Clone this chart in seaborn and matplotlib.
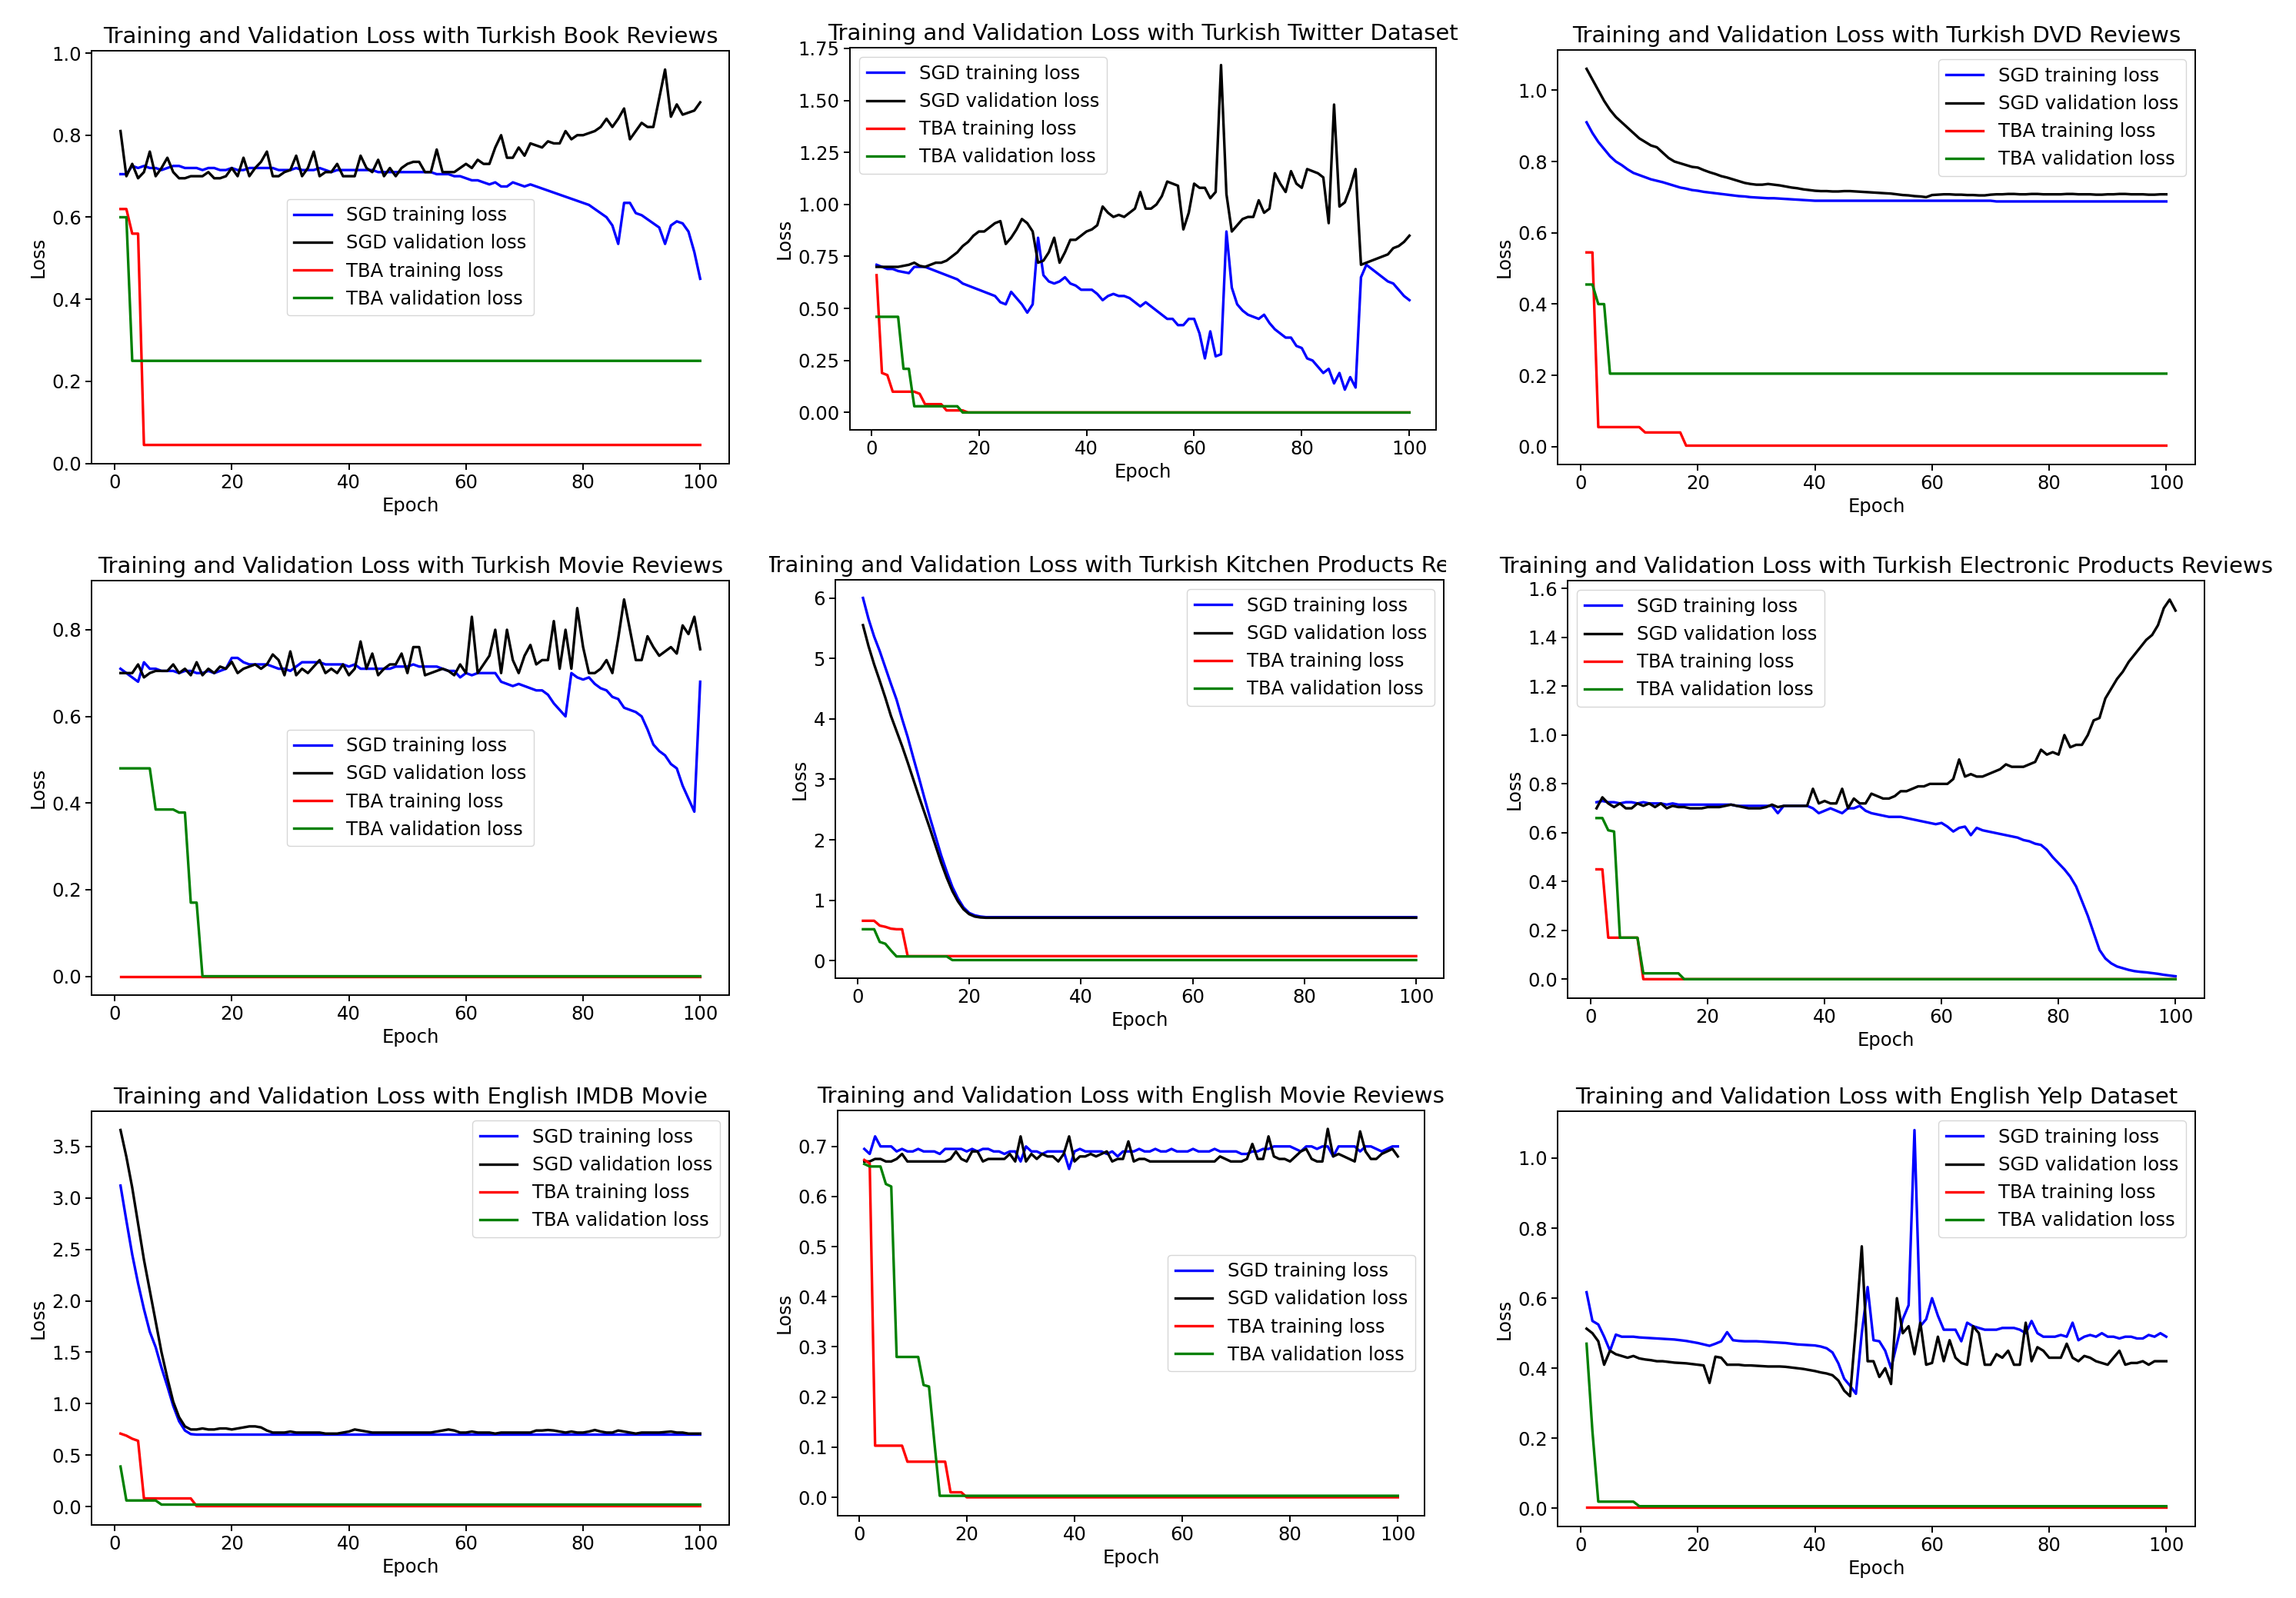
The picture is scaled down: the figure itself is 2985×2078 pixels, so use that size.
import matplotlib
matplotlib.use('Agg')
import matplotlib.pyplot as plt
from matplotlib.transforms import Bbox, TransformedBbox
import seaborn as sns

epochs = list(range(1, 101))
labels = ["SGD training loss", "SGD validation loss", "TBA training loss", "TBA validation loss"]
colors = ["blue", "black", "red", "green"]

# ---- Turkish Book Reviews ----
book_sgd_train = [0.705, 0.705, 0.725, 0.72, 0.725, 0.72, 0.72, 0.715, 0.72, 0.725,
                  0.725, 0.72, 0.72, 0.72, 0.715, 0.72, 0.72, 0.715, 0.715, 0.72,
                  0.715, 0.715, 0.72, 0.72, 0.72, 0.72, 0.72, 0.715, 0.715, 0.715,
                  0.72, 0.715, 0.715, 0.715, 0.72, 0.715, 0.71, 0.715, 0.715, 0.715,
                  0.715, 0.715, 0.715, 0.715, 0.71, 0.71, 0.71, 0.71, 0.71, 0.71,
                  0.71, 0.71, 0.71, 0.71, 0.705, 0.705, 0.705, 0.70, 0.70, 0.695,
                  0.69, 0.69, 0.685, 0.68, 0.685, 0.675, 0.675, 0.685, 0.68, 0.675,
                  0.68, 0.675, 0.67, 0.665, 0.66, 0.655, 0.65, 0.645, 0.64, 0.635,
                  0.63, 0.62, 0.61, 0.60, 0.58, 0.535, 0.635, 0.635, 0.61, 0.605,
                  0.595, 0.585, 0.575, 0.535, 0.58, 0.59, 0.585, 0.565, 0.515, 0.45]
book_sgd_val = [0.81, 0.70, 0.73, 0.695, 0.71, 0.76, 0.70, 0.72, 0.745, 0.71,
                0.695, 0.695, 0.70, 0.70, 0.70, 0.71, 0.695, 0.695, 0.70, 0.72,
                0.70, 0.745, 0.70, 0.72, 0.735, 0.76, 0.70, 0.70, 0.71, 0.715,
                0.75, 0.70, 0.72, 0.76, 0.70, 0.71, 0.71, 0.73, 0.70, 0.70,
                0.70, 0.75, 0.72, 0.71, 0.74, 0.70, 0.72, 0.70, 0.72, 0.73,
                0.735, 0.735, 0.71, 0.71, 0.765, 0.71, 0.71, 0.71, 0.72, 0.73,
                0.72, 0.74, 0.73, 0.73, 0.77, 0.80, 0.745, 0.745, 0.77, 0.75,
                0.78, 0.775, 0.77, 0.785, 0.78, 0.78, 0.81, 0.79, 0.80, 0.80,
                0.805, 0.81, 0.82, 0.84, 0.82, 0.84, 0.865, 0.79, 0.81, 0.83,
                0.82, 0.82, 0.89, 0.96, 0.845, 0.875, 0.85, 0.855, 0.86, 0.88]
book_tba_train = [0.62, 0.62, 0.56, 0.56] + [0.045] * 96
book_tba_val = [0.60, 0.60] + [0.25] * 98

# ---- Turkish Twitter Dataset ----
twitter_sgd_train = [0.71, 0.70, 0.69, 0.69, 0.68, 0.675, 0.67, 0.70, 0.70, 0.70,
                     0.69, 0.68, 0.67, 0.66, 0.65, 0.64, 0.62, 0.61, 0.60, 0.59,
                     0.58, 0.57, 0.56, 0.53, 0.52, 0.58, 0.55, 0.52, 0.48, 0.52,
                     0.84, 0.66, 0.63, 0.62, 0.63, 0.65, 0.62, 0.61, 0.59, 0.59,
                     0.59, 0.57, 0.54, 0.56, 0.57, 0.56, 0.56, 0.55, 0.53, 0.51,
                     0.53, 0.51, 0.49, 0.47, 0.45, 0.45, 0.42, 0.42, 0.45, 0.45,
                     0.38, 0.26, 0.39, 0.27, 0.28, 0.87, 0.60, 0.52, 0.49, 0.47,
                     0.46, 0.45, 0.47, 0.43, 0.40, 0.38, 0.36, 0.36, 0.32, 0.31,
                     0.26, 0.25, 0.22, 0.19, 0.21, 0.14, 0.19, 0.11, 0.17, 0.12,
                     0.65, 0.71, 0.69, 0.67, 0.65, 0.63, 0.62, 0.59, 0.56, 0.54]
twitter_sgd_val = [0.70, 0.70, 0.70, 0.70, 0.70, 0.705, 0.71, 0.72, 0.705, 0.70,
                   0.71, 0.72, 0.72, 0.73, 0.75, 0.77, 0.80, 0.82, 0.85, 0.87,
                   0.87, 0.89, 0.91, 0.92, 0.81, 0.84, 0.88, 0.93, 0.91, 0.87,
                   0.72, 0.73, 0.77, 0.84, 0.72, 0.77, 0.83, 0.83, 0.85, 0.87,
                   0.88, 0.90, 0.99, 0.96, 0.94, 0.95, 0.94, 0.96, 0.98, 1.06,
                   0.98, 0.98, 1.00, 1.04, 1.11, 1.10, 1.09, 0.88, 0.96, 1.10,
                   1.08, 1.08, 1.03, 1.06, 1.67, 1.05, 0.87, 0.90, 0.93, 0.94,
                   0.94, 1.02, 0.96, 0.98, 1.15, 1.10, 1.06, 1.16, 1.10, 1.08,
                   1.17, 1.16, 1.15, 1.13, 0.91, 1.48, 0.99, 1.01, 1.08, 1.17,
                   0.71, 0.72, 0.73, 0.74, 0.75, 0.76, 0.79, 0.80, 0.82, 0.85]
twitter_tba_train = [0.66, 0.19, 0.18, 0.10, 0.10, 0.10, 0.10, 0.10, 0.09, 0.04,
                     0.04, 0.04, 0.04, 0.01, 0.01, 0.01, 0.01] + [0.0] * 83
twitter_tba_val = [0.46] * 5 + [0.21, 0.21] + [0.03] * 9 + [0.0] * 84

# ---- Turkish DVD Reviews ----
dvd_sgd_train = [0.91, 0.88, 0.855, 0.835, 0.815, 0.80, 0.79, 0.778, 0.768, 0.762,
                 0.756, 0.75, 0.746, 0.742, 0.737, 0.732, 0.727, 0.724, 0.72, 0.718,
                 0.715, 0.713, 0.711, 0.709, 0.707, 0.705, 0.703, 0.702, 0.70, 0.699,
                 0.698, 0.697, 0.697, 0.696, 0.695, 0.694, 0.693, 0.692, 0.691, 0.69] + [0.69] * 30 + [0.688] * 30
dvd_sgd_val = [1.06, 1.03, 1.00, 0.97, 0.945, 0.925, 0.91, 0.895, 0.88, 0.865,
               0.855, 0.845, 0.84, 0.825, 0.81, 0.80, 0.795, 0.79, 0.785, 0.783,
               0.776, 0.77, 0.765, 0.759, 0.755, 0.75, 0.745, 0.74, 0.737, 0.735,
               0.735, 0.737, 0.735, 0.733, 0.73, 0.727, 0.725, 0.722, 0.72, 0.718,
               0.717, 0.717, 0.716, 0.716, 0.717, 0.717, 0.716, 0.715, 0.714, 0.713,
               0.712, 0.711, 0.71, 0.708, 0.706, 0.705, 0.703, 0.702, 0.70, 0.706,
               0.707, 0.708, 0.708, 0.707, 0.707, 0.706, 0.706, 0.705, 0.705, 0.707,
               0.708, 0.708, 0.709, 0.709, 0.708, 0.708, 0.709, 0.709, 0.708, 0.708,
               0.708, 0.708, 0.709, 0.709, 0.708, 0.708, 0.708, 0.707, 0.707, 0.708,
               0.708, 0.709, 0.709, 0.708, 0.708, 0.708, 0.707, 0.707, 0.708, 0.708]
dvd_tba_train = [0.545, 0.545] + [0.055] * 8 + [0.04] * 7 + [0.003] * 83
dvd_tba_val = [0.455, 0.455, 0.40, 0.40] + [0.205] * 96

# ---- Turkish Movie Reviews ----
trmovie_sgd_train = [0.71, 0.70, 0.69, 0.68, 0.725, 0.71, 0.71, 0.705, 0.705, 0.705,
                     0.70, 0.705, 0.705, 0.70, 0.70, 0.705, 0.70, 0.705, 0.71, 0.735,
                     0.735, 0.725, 0.72, 0.72, 0.72, 0.72, 0.715, 0.71, 0.71, 0.705,
                     0.715, 0.725, 0.725, 0.725, 0.725, 0.72, 0.72, 0.72, 0.72, 0.715,
                     0.72, 0.71, 0.71, 0.71, 0.71, 0.71, 0.71, 0.715, 0.715, 0.715,
                     0.72, 0.715, 0.715, 0.715, 0.715, 0.71, 0.705, 0.705, 0.69, 0.70,
                     0.695, 0.70, 0.70, 0.70, 0.70, 0.68, 0.675, 0.67, 0.675, 0.67,
                     0.665, 0.66, 0.66, 0.65, 0.63, 0.615, 0.60, 0.70, 0.69, 0.685,
                     0.69, 0.675, 0.665, 0.66, 0.645, 0.64, 0.62, 0.615, 0.61, 0.60,
                     0.57, 0.535, 0.52, 0.51, 0.49, 0.48, 0.44, 0.41, 0.38, 0.68]
trmovie_sgd_val = [0.70, 0.70, 0.70, 0.72, 0.69, 0.70, 0.705, 0.705, 0.705, 0.72,
                   0.70, 0.71, 0.695, 0.725, 0.695, 0.71, 0.70, 0.715, 0.71, 0.726,
                   0.70, 0.71, 0.715, 0.72, 0.71, 0.72, 0.743, 0.73, 0.695, 0.75,
                   0.695, 0.71, 0.70, 0.715, 0.73, 0.70, 0.71, 0.70, 0.72, 0.695,
                   0.71, 0.773, 0.71, 0.745, 0.695, 0.71, 0.72, 0.72, 0.745, 0.70,
                   0.76, 0.76, 0.695, 0.70, 0.705, 0.71, 0.705, 0.695, 0.72, 0.70,
                   0.83, 0.70, 0.72, 0.74, 0.80, 0.70, 0.80, 0.73, 0.70, 0.74,
                   0.765, 0.72, 0.73, 0.73, 0.82, 0.71, 0.80, 0.71, 0.85, 0.76,
                   0.70, 0.70, 0.71, 0.73, 0.70, 0.78, 0.87, 0.80, 0.73, 0.73,
                   0.785, 0.76, 0.74, 0.75, 0.76, 0.745, 0.81, 0.79, 0.83, 0.755]
trmovie_tba_train = [0.0] * 100
trmovie_tba_val = [0.48] * 6 + [0.385] * 4 + [0.378] * 2 + [0.17] * 2 + [0.0] * 86

# ---- Turkish Kitchen Products Reviews ----
kitchen_sgd_train = [6.00, 5.65, 5.36, 5.12, 4.85, 4.58, 4.32, 4.00, 3.70, 3.36,
                     3.03, 2.69, 2.36, 2.05, 1.74, 1.47, 1.22, 1.03, 0.88, 0.79,
                     0.75, 0.73] + [0.72] * 78
kitchen_sgd_val = [5.55, 5.20, 4.90, 4.63, 4.35, 4.05, 3.80, 3.55, 3.28, 3.00,
                   2.72, 2.45, 2.18, 1.90, 1.62, 1.37, 1.15, 0.98, 0.85, 0.77,
                   0.73, 0.715] + [0.71] * 78
kitchen_tba_train = [0.66, 0.66, 0.66, 0.58, 0.56, 0.53, 0.52, 0.52] + [0.075] * 92
kitchen_tba_val = [0.52, 0.52, 0.52, 0.31, 0.28, 0.17] + [0.07] * 10 + [0.01] * 84

# ---- Turkish Electronic Products Reviews ----
elec_sgd_train = [0.725, 0.73, 0.725, 0.725, 0.72, 0.725, 0.725, 0.72, 0.725, 0.72,
                  0.72, 0.72, 0.715, 0.72, 0.715, 0.715, 0.715, 0.715, 0.715, 0.715,
                  0.715, 0.715, 0.715, 0.715, 0.71, 0.71, 0.71, 0.71, 0.71, 0.71,
                  0.71, 0.68, 0.71, 0.71, 0.71, 0.71, 0.71, 0.70, 0.68, 0.69,
                  0.70, 0.69, 0.68, 0.70, 0.70, 0.71, 0.69, 0.68, 0.675, 0.67,
                  0.665, 0.665, 0.665, 0.66, 0.655, 0.65, 0.645, 0.64, 0.635, 0.64,
                  0.625, 0.605, 0.62, 0.625, 0.59, 0.62, 0.61, 0.605, 0.60, 0.595,
                  0.59, 0.585, 0.58, 0.57, 0.565, 0.555, 0.55, 0.53, 0.50, 0.475,
                  0.45, 0.42, 0.38, 0.32, 0.26, 0.19, 0.12, 0.085, 0.065, 0.052,
                  0.045, 0.038, 0.033, 0.03, 0.028, 0.025, 0.022, 0.018, 0.015, 0.012]
elec_sgd_val = [0.70, 0.745, 0.72, 0.705, 0.72, 0.70, 0.70, 0.72, 0.71, 0.72,
                0.705, 0.72, 0.70, 0.71, 0.705, 0.705, 0.70, 0.70, 0.70, 0.705,
                0.705, 0.705, 0.71, 0.715, 0.71, 0.705, 0.70, 0.70, 0.70, 0.705,
                0.715, 0.705, 0.71, 0.71, 0.71, 0.71, 0.71, 0.78, 0.72, 0.73,
                0.72, 0.72, 0.78, 0.70, 0.74, 0.72, 0.72, 0.76, 0.75, 0.74,
                0.74, 0.75, 0.77, 0.77, 0.78, 0.79, 0.79, 0.80, 0.80, 0.80,
                0.80, 0.82, 0.90, 0.83, 0.84, 0.83, 0.83, 0.84, 0.85, 0.86,
                0.88, 0.87, 0.87, 0.87, 0.88, 0.89, 0.94, 0.92, 0.93, 0.92,
                1.00, 0.95, 0.96, 0.96, 1.00, 1.06, 1.07, 1.15, 1.19, 1.23,
                1.26, 1.30, 1.33, 1.36, 1.39, 1.41, 1.45, 1.52, 1.555, 1.51]
elec_tba_train = [0.45, 0.45] + [0.17] * 6 + [0.0] * 92
elec_tba_val = [0.66, 0.66, 0.61, 0.605] + [0.17] * 4 + [0.024] * 7 + [0.0] * 85

# ---- English IMDB Movie ----
imdb_sgd_train = [3.12, 2.78, 2.45, 2.17, 1.92, 1.70, 1.55, 1.35, 1.17, 0.98,
                  0.83, 0.74, 0.705] + [0.70] * 87
imdb_sgd_val = [3.66, 3.40, 3.10, 2.75, 2.40, 2.10, 1.80, 1.50, 1.25, 1.02,
                0.87, 0.78, 0.75, 0.75, 0.76, 0.75, 0.75, 0.76, 0.76, 0.75,
                0.76, 0.77, 0.78, 0.78, 0.77, 0.74, 0.72, 0.72, 0.72, 0.73,
                0.72, 0.72, 0.72, 0.72, 0.72, 0.71, 0.71, 0.71, 0.72, 0.73,
                0.75, 0.74, 0.73, 0.72, 0.72, 0.72, 0.72, 0.72, 0.72, 0.72,
                0.72, 0.72, 0.72, 0.72, 0.73, 0.74, 0.75, 0.74, 0.72, 0.72,
                0.73, 0.72, 0.72, 0.72, 0.71, 0.72, 0.72, 0.72, 0.72, 0.72,
                0.72, 0.74, 0.74, 0.745, 0.74, 0.73, 0.72, 0.73, 0.72, 0.72,
                0.73, 0.745, 0.73, 0.72, 0.72, 0.74, 0.73, 0.72, 0.71, 0.72,
                0.72, 0.72, 0.72, 0.725, 0.73, 0.72, 0.72, 0.71, 0.71, 0.71]
imdb_tba_train = [0.71, 0.69, 0.66, 0.64] + [0.08] * 9 + [0.005] * 87
imdb_tba_val = [0.39] + [0.06] * 6 + [0.02] * 93

# ---- English Movie Reviews ----
enmovie_sgd_train = [0.695, 0.685, 0.72, 0.70, 0.70, 0.70, 0.69, 0.695, 0.69, 0.69,
                     0.695, 0.69, 0.69, 0.69, 0.685, 0.695, 0.695, 0.695, 0.695, 0.69,
                     0.695, 0.69, 0.695, 0.695, 0.69, 0.69, 0.685, 0.69, 0.69, 0.67,
                     0.70, 0.69, 0.69, 0.685, 0.69, 0.69, 0.69, 0.69, 0.655, 0.69,
                     0.695, 0.69, 0.69, 0.69, 0.69, 0.685, 0.69, 0.68, 0.69, 0.69,
                     0.69, 0.695, 0.69, 0.69, 0.695, 0.69, 0.69, 0.695, 0.69, 0.69,
                     0.69, 0.695, 0.69, 0.69, 0.69, 0.695, 0.69, 0.69, 0.69, 0.69,
                     0.685, 0.685, 0.69, 0.69, 0.695, 0.695, 0.70, 0.70, 0.70, 0.70,
                     0.695, 0.69, 0.70, 0.70, 0.695, 0.70, 0.70, 0.68, 0.70, 0.70,
                     0.70, 0.70, 0.69, 0.70, 0.70, 0.695, 0.69, 0.695, 0.70, 0.70]
enmovie_sgd_val = [0.67, 0.67, 0.675, 0.675, 0.67, 0.67, 0.675, 0.685, 0.67, 0.67,
                   0.67, 0.67, 0.67, 0.67, 0.67, 0.67, 0.675, 0.69, 0.675, 0.67,
                   0.69, 0.69, 0.67, 0.675, 0.675, 0.675, 0.675, 0.685, 0.67, 0.72,
                   0.67, 0.685, 0.675, 0.685, 0.68, 0.68, 0.67, 0.685, 0.72, 0.67,
                   0.68, 0.68, 0.685, 0.68, 0.685, 0.69, 0.67, 0.675, 0.675, 0.71,
                   0.67, 0.675, 0.675, 0.67, 0.67, 0.67, 0.67, 0.67, 0.67, 0.67,
                   0.67, 0.67, 0.67, 0.67, 0.67, 0.67, 0.68, 0.675, 0.67, 0.67,
                   0.67, 0.675, 0.705, 0.675, 0.675, 0.72, 0.68, 0.675, 0.675, 0.67,
                   0.68, 0.69, 0.695, 0.675, 0.67, 0.67, 0.735, 0.68, 0.685, 0.68,
                   0.675, 0.67, 0.73, 0.69, 0.675, 0.675, 0.685, 0.69, 0.695, 0.68]
enmovie_tba_train = [0.673, 0.666] + [0.103] * 6 + [0.071] * 8 + [0.01] * 3 + [0.0] * 81
enmovie_tba_val = [0.665, 0.66, 0.66, 0.66, 0.625, 0.62] + [0.28] * 5 + [0.224, 0.221, 0.11] + [0.003] * 86

# ---- English Yelp Dataset ----
yelp_sgd_train = [0.617, 0.535, 0.525, 0.49, 0.45, 0.496, 0.49, 0.49, 0.49, 0.488,
                  0.487, 0.486, 0.485, 0.484, 0.483, 0.482, 0.48, 0.478, 0.475, 0.472,
                  0.468, 0.464, 0.47, 0.477, 0.503, 0.48, 0.478, 0.477, 0.477, 0.477,
                  0.476, 0.475, 0.474, 0.473, 0.472, 0.47, 0.468, 0.467, 0.466, 0.465,
                  0.462, 0.457, 0.445, 0.414, 0.37, 0.35, 0.327, 0.50, 0.632, 0.48,
                  0.477, 0.45, 0.40, 0.47, 0.54, 0.58, 1.08, 0.52, 0.54, 0.60,
                  0.55, 0.51, 0.51, 0.51, 0.477, 0.53, 0.52, 0.515, 0.51, 0.51,
                  0.51, 0.515, 0.515, 0.515, 0.51, 0.50, 0.535, 0.50, 0.49, 0.49,
                  0.49, 0.495, 0.49, 0.53, 0.48, 0.49, 0.495, 0.49, 0.50, 0.49,
                  0.49, 0.485, 0.49, 0.49, 0.485, 0.485, 0.495, 0.49, 0.50, 0.49]
yelp_sgd_val = [0.513, 0.50, 0.477, 0.41, 0.45, 0.44, 0.435, 0.43, 0.435, 0.428,
                0.425, 0.423, 0.42, 0.42, 0.418, 0.416, 0.415, 0.414, 0.412, 0.41,
                0.408, 0.358, 0.433, 0.43, 0.41, 0.41, 0.41, 0.408, 0.408, 0.407,
                0.406, 0.405, 0.405, 0.405, 0.404, 0.402, 0.40, 0.398, 0.395, 0.392,
                0.388, 0.385, 0.38, 0.365, 0.336, 0.32, 0.52, 0.748, 0.42, 0.42,
                0.375, 0.40, 0.355, 0.60, 0.50, 0.52, 0.44, 0.53, 0.41, 0.415,
                0.49, 0.42, 0.48, 0.43, 0.415, 0.41, 0.52, 0.50, 0.41, 0.41,
                0.44, 0.43, 0.45, 0.41, 0.41, 0.53, 0.42, 0.46, 0.45, 0.43,
                0.43, 0.43, 0.47, 0.43, 0.42, 0.435, 0.43, 0.42, 0.415, 0.41,
                0.43, 0.45, 0.41, 0.415, 0.415, 0.42, 0.41, 0.42, 0.42, 0.42]
yelp_tba_train = [0.002] * 100
yelp_tba_val = [0.47, 0.22] + [0.019] * 7 + [0.006] * 91

titles = [
    "Training and Validation Loss with Turkish Book Reviews",
    "Training and Validation Loss with Turkish Twitter Dataset",
    "Training and Validation Loss with Turkish DVD Reviews",
    "Training and Validation Loss with Turkish Movie Reviews",
    "Training and Validation Loss with Turkish Kitchen Products Reviews",
    "Training and Validation Loss with Turkish Electronic Products Reviews",
    "Training and Validation Loss with English IMDB Movie",
    "Training and Validation Loss with English Movie Reviews",
    "Training and Validation Loss with English Yelp Dataset",
]
series = [
    (book_sgd_train, book_sgd_val, book_tba_train, book_tba_val),
    (twitter_sgd_train, twitter_sgd_val, twitter_tba_train, twitter_tba_val),
    (dvd_sgd_train, dvd_sgd_val, dvd_tba_train, dvd_tba_val),
    (trmovie_sgd_train, trmovie_sgd_val, trmovie_tba_train, trmovie_tba_val),
    (kitchen_sgd_train, kitchen_sgd_val, kitchen_tba_train, kitchen_tba_val),
    (elec_sgd_train, elec_sgd_val, elec_tba_train, elec_tba_val),
    (imdb_sgd_train, imdb_sgd_val, imdb_tba_train, imdb_tba_val),
    (enmovie_sgd_train, enmovie_sgd_val, enmovie_tba_train, enmovie_tba_val),
    (yelp_sgd_train, yelp_sgd_val, yelp_tba_train, yelp_tba_val),
]
legend_locs = ["center", "upper left", "upper right",
               "center", "upper right", "upper left",
               "upper right", "center right", "upper right"]

# axes boxes in pixels (left, top, right, bottom) of the 2985x2078 canvas
W, H = 2985, 2078
boxes = [(119, 66, 948, 603), (1105, 62, 1867, 559), (2025, 65, 2854, 604),
         (119, 755, 948, 1294), (1086, 754, 1877, 1272), (2038, 755, 2866, 1298),
         (119, 1445, 948, 1983), (1089, 1444, 1852, 1971), (2025, 1445, 2854, 1985)]
# title clipping (the reference is a collage of cropped images)
title_clip = {4: (1000, 1880), 5: (1942, W)}

plt.rcParams.update({
    "font.family": ["DejaVu Sans"],
    "axes.titlesize": 21,
    "axes.labelsize": 17.5,
    "xtick.labelsize": 17.5,
    "ytick.labelsize": 17.5,
    "legend.fontsize": 17.5,
    "axes.linewidth": 1.4,
    "xtick.major.size": 6,
    "ytick.major.size": 6,
    "xtick.major.width": 1.4,
    "ytick.major.width": 1.4,
})

fig = plt.figure(figsize=(W / 100, H / 100), dpi=100)

for i, (title, ser) in enumerate(zip(titles, series)):
    l, t, r, b = boxes[i]
    ax = fig.add_axes([l / W, 1 - b / H, (r - l) / W, (b - t) / H])
    for vals, lab, col in zip(ser, labels, colors):
        sns.lineplot(x=epochs, y=vals, ax=ax, color=col, linewidth=2.4, label=lab)
    ax.set_xlabel("Epoch")
    ax.set_ylabel("Loss")
    ax.set_xticks([0, 20, 40, 60, 80, 100])
    ax.legend(loc=legend_locs[i])
    ttl = ax.set_title(title, pad=7)
    if i in title_clip:
        x0, x1 = title_clip[i]
        clip = TransformedBbox(Bbox([[x0 / W, 0], [x1 / W, 1]]), fig.transFigure)
        ttl.set_clip_box(clip)
        ttl.set_clip_on(True)

fig.savefig("out.png", dpi=100, facecolor="white")
